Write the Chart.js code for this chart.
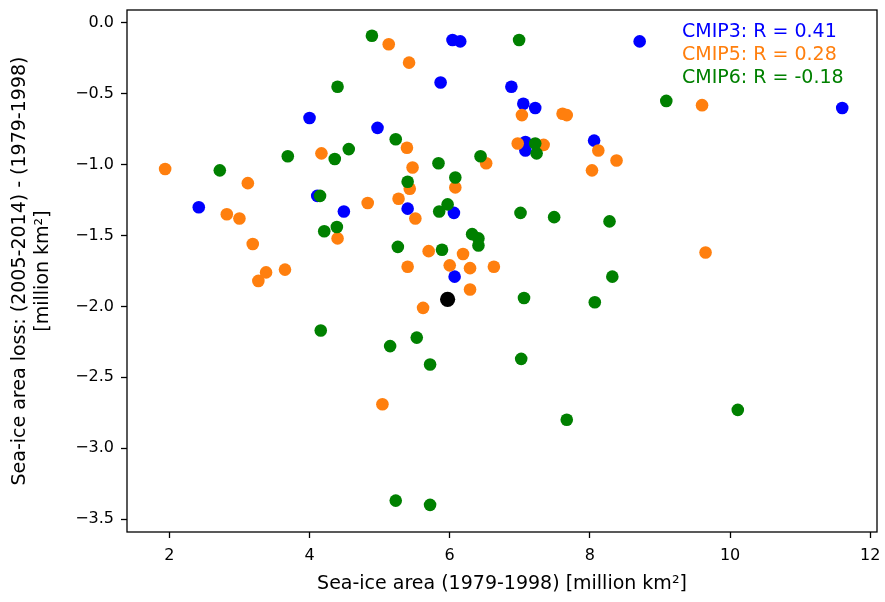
<!DOCTYPE html>
<html lang="en">
<head>
<meta charset="UTF-8">
<title>Sea-ice area vs. sea-ice area loss</title>
<script src="https://cdn.jsdelivr.net/npm/chart.js"></script>
<style>
body{margin:0;background:#fff;}
canvas{display:block;}
</style>
</head>
<body>
<canvas id="scatter" width="885" height="602"></canvas>
<script>
/* -------------------------------------------------- */
/* 0.  Data                     */
/* -------------------------------------------------- */
// x: sea-ice area 1979-1998, y: loss (2005-2014) - (1979-1998), million km2
const cmip3X=[2.42,4.11,4.00,4.49,4.97,5.40,5.87,6.04,6.15,6.06,6.07,6.88,7.05,7.22,7.08,7.08,8.06,8.71,11.60];
const cmip3Y=[-1.30,-1.22,-0.67,-1.33,-0.74,-1.31,-0.42,-0.12,-0.13,-1.34,-1.79,-0.45,-0.57,-0.60,-0.84,-0.90,-0.83,-0.13,-0.60];

const cmip5X=[1.94,2.82,3.00,3.12,3.19,3.27,3.38,3.65,4.17,4.40,4.83,5.04,5.13,5.27,5.39,5.40,5.42,5.43,5.47,5.51,
              5.62,5.70,6.00,6.08,6.19,6.29,6.29,6.52,6.63,6.97,7.03,7.34,7.61,7.67,8.03,8.12,8.38,9.60,9.65];
const cmip5Y=[-1.03,-1.35,-1.38,-1.13,-1.56,-1.82,-1.76,-1.74,-0.92,-1.52,-1.27,-2.69,-0.15,-1.24,-0.88,-1.72,-0.28,-1.17,-1.02,-1.38,
              -2.01,-1.61,-1.71,-1.16,-1.63,-1.73,-1.88,-0.99,-1.72,-0.85,-0.65,-0.86,-0.64,-0.65,-1.04,-0.90,-0.97,-0.58,-1.62];

const cmip6X=[2.72,3.69,4.16,4.15,4.21,4.36,4.39,4.40,4.56,4.89,5.15,5.23,5.23,5.26,5.40,5.53,5.72,5.72,5.84,5.85,
              5.89,5.97,6.08,6.32,6.41,6.41,6.44,6.99,7.01,7.02,7.06,7.22,7.24,7.49,7.67,8.07,8.28,8.32,9.09,10.11];
const cmip6Y=[-1.04,-0.94,-2.17,-1.22,-1.47,-0.96,-1.44,-0.45,-0.89,-0.09,-2.28,-0.82,-3.37,-1.58,-1.12,-2.22,-2.41,-3.40,-0.99,-1.33,
              -1.60,-1.28,-1.09,-1.49,-1.52,-1.57,-0.94,-0.12,-1.34,-2.37,-1.94,-0.85,-0.92,-1.37,-2.80,-1.97,-1.40,-1.79,-0.55,-2.73];

const obsX=[5.97];
const obsY=[-1.95];

const xTicks=[2,4,6,8,10,12];
const yTicks=[0,-0.5,-1,-1.5,-2,-2.5,-3,-3.5];
const corrLines=["CMIP3: R = 0.41","CMIP5: R = 0.28","CMIP6: R = -0.18"];

/* -------------------------------------------------- */
/* 1.  Colours / helpers                              */
/* -------------------------------------------------- */
const COLORS={blue:"#0000ff",orange:"#ff7f0e",green:"#008000",black:"#000000"};
const FONT="'DejaVu Sans',sans-serif";
const pts=(xs,ys)=>xs.map((x,i)=>({x:x,y:ys[i]}));
const minus=s=>String(s).replace("-","\u2212");

/* frame round the axes + the R annotation */
const framePlugin={
    id:"frame",
    afterDraw(chart){
        const {ctx,chartArea:a}=chart;
        ctx.save();
        ctx.strokeStyle="#000";ctx.lineWidth=1.3;
        ctx.strokeRect(a.left,a.top,a.right-a.left,a.bottom-a.top);
        ctx.font="19px "+FONT;ctx.textAlign="left";ctx.textBaseline="alphabetic";
        [COLORS.blue,COLORS.orange,COLORS.green].forEach((c,i)=>{
            ctx.fillStyle=c;
            ctx.fillText(corrLines[i],682,36.7+i*23.3);
        });
        ctx.restore();
    }
};

/* -------------------------------------------------- */
/* 2.  Chart                                          */
/* -------------------------------------------------- */
const gridOpts={drawOnChartArea:false,drawTicks:true,tickLength:6,tickWidth:1.3,tickColor:"#000"};
const noPad=s=>{s.paddingTop=0;s.paddingBottom=0;s.paddingLeft=0;s.paddingRight=0;};

new Chart(document.getElementById("scatter"),{
    type:"scatter",
    data:{datasets:[
        // first dataset is painted last (on top)
        {label:"obs"  ,data:pts(obsX,obsY)    ,backgroundColor:COLORS.black ,pointRadius:7.6,borderWidth:0},
        {label:"CMIP6",data:pts(cmip6X,cmip6Y),backgroundColor:COLORS.green ,pointRadius:6.3,borderWidth:0},
        {label:"CMIP5",data:pts(cmip5X,cmip5Y),backgroundColor:COLORS.orange,pointRadius:6.3,borderWidth:0},
        {label:"CMIP3",data:pts(cmip3X,cmip3Y),backgroundColor:COLORS.blue  ,pointRadius:6.3,borderWidth:0}
    ]},
    options:{
        responsive:false,animation:false,devicePixelRatio:1,
        layout:{padding:{top:10,right:8,left:0,bottom:0}},
        plugins:{legend:{display:false},tooltip:{enabled:false}},
        scales:{
            x:{
                type:"linear",min:1.396,max:12.096,
                afterBuildTicks:s=>{s.ticks=xTicks.map(v=>({value:v}));},
                afterFit:s=>{s.height=70;noPad(s);},
                grid:gridOpts,border:{display:false},
                ticks:{color:"#000",font:{family:FONT,size:16},padding:8,maxRotation:0,callback:v=>String(v)},
                title:{display:true,text:"Sea-ice area (1979-1998) [million km\u00b2]",color:"#000",
                       font:{family:FONT,size:19,lineHeight:1.2},padding:{top:0,bottom:7}}
            },
            y:{
                type:"linear",min:-3.5915,max:0.0915,
                afterBuildTicks:s=>{s.ticks=yTicks.map(v=>({value:v}));},
                afterFit:s=>{s.width=127;noPad(s);},
                grid:gridOpts,border:{display:false},
                ticks:{color:"#000",font:{family:FONT,size:16},padding:7,callback:v=>minus(v.toFixed(1))},
                title:{display:true,text:["Sea-ice area loss: (2005-2014) - (1979-1998)","[million km\u00b2]"],color:"#000",
                       font:{family:FONT,size:19,lineHeight:1.2},padding:{top:8.5,bottom:0}}
            }
        }
    },
    plugins:[framePlugin]
});
</script>
</body>
</html>
